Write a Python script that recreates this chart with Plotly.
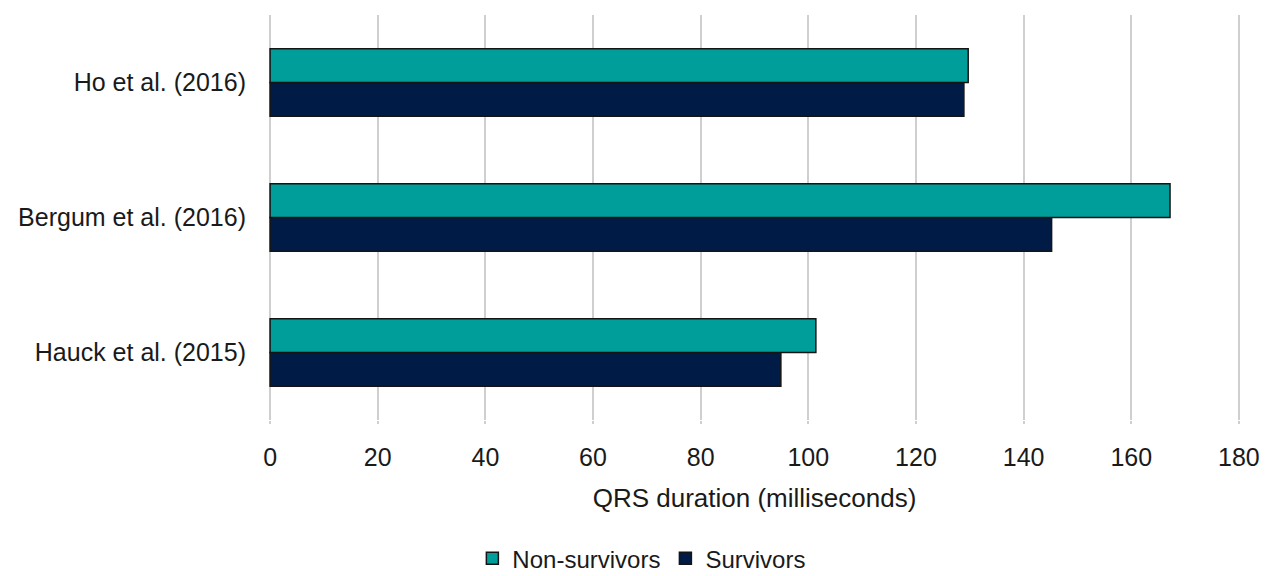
import plotly.graph_objects as go

categories = ["Hauck et al. (2015)", "Bergum et al. (2016)", "Ho et al. (2016)"]
non_survivors = [101.4, 167.2, 129.7]
survivors = [94.9, 145.2, 128.9]
x_ticks = [0, 20, 40, 60, 80, 100, 120, 140, 160, 180]

FONT = "Liberation Sans, Arial, sans-serif"

fig = go.Figure()
fig.add_trace(go.Bar(
    y=categories, x=survivors, orientation="h", name="Survivors",
    marker=dict(color="#001C46", line=dict(color="#141414", width=1.5)),
))
fig.add_trace(go.Bar(
    y=categories, x=non_survivors, orientation="h", name="Non-survivors",
    marker=dict(color="#009E9B", line=dict(color="#141414", width=1.5)),
))

fig.update_layout(
    width=1266, height=576,
    margin=dict(l=269, r=26, t=15, b=156, autoexpand=False),
    paper_bgcolor="white", plot_bgcolor="white",
    barmode="group", bargap=0.5, bargroupgap=0,
    font=dict(family=FONT, size=25, color="#1a1a1a"),
    legend=dict(
        orientation="h", xref="container", x=0.507, xanchor="center",
        yref="container", y=0.03, yanchor="middle",
        traceorder="reversed", font=dict(size=24), itemwidth=30,
        bgcolor="rgba(0,0,0,0)",
    ),
    showlegend=True,
)
fig.update_xaxes(
    range=[-0.2, 180.2], tickvals=x_ticks, ticktext=[str(v) for v in x_ticks],
    showgrid=True, gridcolor="#cfcfcf", gridwidth=2,
    zeroline=True, zerolinecolor="#cfcfcf", zerolinewidth=2, showline=False,
    ticks="outside", ticklen=3, tickcolor="#cfcfcf", tickwidth=2,
    ticklabelstandoff=12, automargin=False,
    title=dict(text="QRS duration (milliseconds)", font=dict(size=26), standoff=18),
)
fig.update_yaxes(
    showgrid=False, zeroline=False, showline=False,
    ticks="", ticklabelstandoff=22, automargin=False,
    tickfont=dict(size=25),
)

fig.write_html("out.html")
